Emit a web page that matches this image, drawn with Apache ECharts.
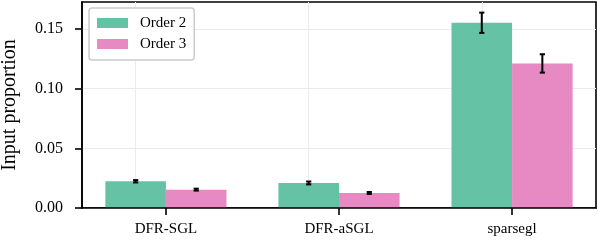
<!DOCTYPE html>
<html><head><meta charset="utf-8">
<script src="https://cdn.jsdelivr.net/npm/echarts@6/dist/echarts.min.js"></script>
<style>html,body{margin:0;padding:0;background:#fff}#c{width:598px;height:242px}</style>
</head><body><div id="c"></div>
<script>
const categories = ['DFR-SGL', 'DFR-aSGL', 'sparsegl'];
const seriesNames = ['Order 2', 'Order 3'];
const order2Values = [0.0224, 0.0210, 0.1553];
const order2Errors = [0.0010, 0.0012, 0.0085];
const order3Values = [0.0154, 0.0126, 0.1212];
const order3Errors = [0.0008, 0.0008, 0.0077];
const yTicks = [0, 0.05, 0.10, 0.15];

const BAR_W = 0.35;
const X_MIN = -0.485, X_MAX = 2.485, Y_MAX = 0.1727;
const FONT = 'Liberation Serif';
const COLORS = ['#66c2a5', '#e78ac3'];
const catIdx = categories.map((c, i) => i);

function errRender(off) {
  return function (params, api) {
    const x = api.value(0) + off;
    const lo = api.coord([x, api.value(1)]);
    const hi = api.coord([x, api.value(2)]);
    const cw = 2.6;
    const st = { stroke: '#000', lineWidth: 2 };
    return {
      type: 'group',
      children: [
        { type: 'line', shape: { x1: lo[0], y1: lo[1], x2: hi[0], y2: hi[1] }, style: st },
        { type: 'line', shape: { x1: lo[0] - cw, y1: lo[1], x2: lo[0] + cw, y2: lo[1] }, style: st },
        { type: 'line', shape: { x1: hi[0] - cw, y1: hi[1], x2: hi[0] + cw, y2: hi[1] }, style: st }
      ]
    };
  };
}

const chart = echarts.init(document.getElementById('c'), null, { renderer: 'canvas' });
chart.setOption({
  animation: false,
  backgroundColor: '#fff',
  grid: { left: 82, right: 2, top: 2, bottom: 34, containLabel: false, outerBoundsMode: 'none', show: true, borderColor: '#000', borderWidth: 1.6, backgroundColor: 'transparent' },
  legend: {
    orient: 'vertical', left: 89, top: 8,
    itemWidth: 31, itemHeight: 10, itemGap: 5, icon: 'rect',
    padding: [7, 8, 8, 8],
    backgroundColor: '#fff', borderColor: '#cccccc', borderWidth: 1.5, borderRadius: 3,
    textStyle: { fontFamily: FONT, fontSize: 15, color: '#000', lineHeight: 16, padding: [0, 0, 0, 7] },
    data: seriesNames
  },
  xAxis: {
    type: 'value', min: X_MIN, max: X_MAX, z: 10,
    axisLine: { show: true, onZero: false, lineStyle: { color: '#000', width: 1.6 } },
    axisTick: { show: true, length: 7, lineStyle: { color: '#000', width: 1.6 }, customValues: catIdx },
    axisLabel: { customValues: catIdx, formatter: v => categories[Math.round(v)] || '', margin: 14, fontFamily: FONT, fontSize: 15, color: '#000' },
    splitLine: { show: false }
  },
  yAxis: {
    type: 'value', min: 0, max: Y_MAX, interval: 0.05,
    name: 'Input proportion', nameLocation: 'middle', nameGap: 62,
    nameTextStyle: { fontFamily: FONT, fontSize: 20, color: '#000' },
    axisLine: { show: true, onZero: false, lineStyle: { color: '#000', width: 1.6 } },
    axisTick: { show: true, length: 7, lineStyle: { color: '#000', width: 1.6 }, customValues: yTicks },
    axisLabel: { customValues: yTicks, formatter: v => v.toFixed(2), margin: 19, fontFamily: FONT, fontSize: 16, color: '#000' },
    splitLine: { show: true, lineStyle: { color: '#ebebeb', width: 1 } }
  },
  series: [
    {
      name: seriesNames[0], type: 'bar', barWidth: (BAR_W * 100) + '%', barGap: '0%',
      itemStyle: { color: COLORS[0] },
      data: order2Values.map((v, i) => [i, v]),
      markLine: {
        z: 1, silent: true, symbol: ['none', 'none'], label: { show: false },
        lineStyle: { color: '#ebebeb', width: 1, type: 'solid' },
        data: catIdx.map(i => ({ xAxis: i }))
      }
    },
    {
      name: seriesNames[1], type: 'bar', barWidth: (BAR_W * 100) + '%', barGap: '0%',
      itemStyle: { color: COLORS[1] },
      data: order3Values.map((v, i) => [i, v])
    },
    {
      type: 'custom', z: 6, renderItem: errRender(-BAR_W / 2),
      data: order2Values.map((v, i) => [i, v - order2Errors[i], v + order2Errors[i]])
    },
    {
      type: 'custom', z: 6, renderItem: errRender(BAR_W / 2),
      data: order3Values.map((v, i) => [i, v - order3Errors[i], v + order3Errors[i]])
    }
  ]
});
</script></body></html>
